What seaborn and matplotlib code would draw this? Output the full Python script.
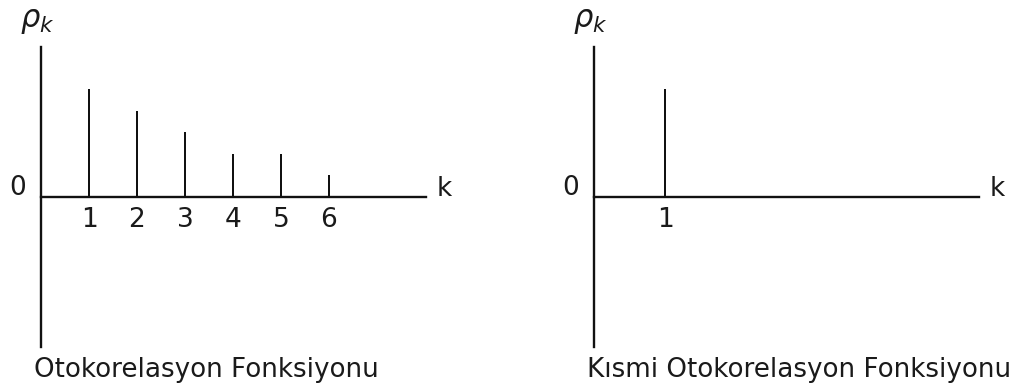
import matplotlib
matplotlib.use("Agg")
import matplotlib.pyplot as plt
import seaborn as sns
import pandas as pd

# --- veri ---
acf_lags = [1, 2, 3, 4, 5, 6]
acf_vals = [0.50, 0.40, 0.30, 0.20, 0.20, 0.10]
pacf_lags = [1]
pacf_vals = [0.50]
titles = ["Otokorelasyon Fonksiyonu", "Kısmi Otokorelasyon Fonksiyonu"]

sns.set_style("white")
plt.rcParams['font.family'] = ['DejaVu Sans']
plt.rcParams['text.color'] = '#1a1a1a'
plt.rcParams['xtick.color'] = '#1a1a1a'

W, H = 1016, 385
fig = plt.figure(figsize=(W / 100, H / 100), dpi=100)

def px_axes(x0, x1, y_top, y_bot):
    return fig.add_axes([x0 / W, (H - y_bot) / H, (x1 - x0) / W, (y_bot - y_top) / H])

def draw_panel(ax, lags, vals, px_per_lag, title, x0px):
    df = pd.DataFrame({'k': lags, 'rho': vals})
    sns.barplot(data=df, x='k', y='rho', native_scale=True, width=2.0 / px_per_lag,
                color='#111111', linewidth=0, ax=ax)
    ax.set_xlim(0, 385 / px_per_lag)
    ax.set_ylim(-150 / 216, 150 / 216)
    for s in ['top', 'right']:
        ax.spines[s].set_visible(False)
    ax.spines['bottom'].set_position(('data', 0))
    ax.spines['left'].set_position(('data', 0))
    for s in ['bottom', 'left']:
        ax.spines[s].set_linewidth(1.7)
        ax.spines[s].set_color('#111111')
    ax.set_xticks(lags)
    ax.set_xticklabels([str(v) for v in lags])
    ax.set_yticks([])
    ax.tick_params(axis='x', length=0, labelsize=19, pad=7)
    ax.set_xlabel('')
    ax.set_ylabel('')
    ax.patch.set_alpha(0)
    # etiketler (figür pikseline göre)
    fig.text((x0px - 23) / W, (H - 188) / H, '0', fontsize=19, ha='center', va='center')
    fig.text((x0px + 403) / W, (H - 189) / H, 'k', fontsize=19, ha='center', va='center')
    fig.text((x0px - 4) / W, (H - 21) / H, r'$\rho_k$', fontsize=22, ha='center', va='center')
    fig.text((x0px - 7) / W, (H - 377) / H, title, fontsize=18.8, ha='left', va='baseline')

ax1 = px_axes(41, 426, 47, 347)
draw_panel(ax1, acf_lags, acf_vals, 48, titles[0], 41)

ax2 = px_axes(594, 979, 47, 347)
draw_panel(ax2, pacf_lags, pacf_vals, 71, titles[1], 594)

fig.savefig("out.png", dpi=100)
